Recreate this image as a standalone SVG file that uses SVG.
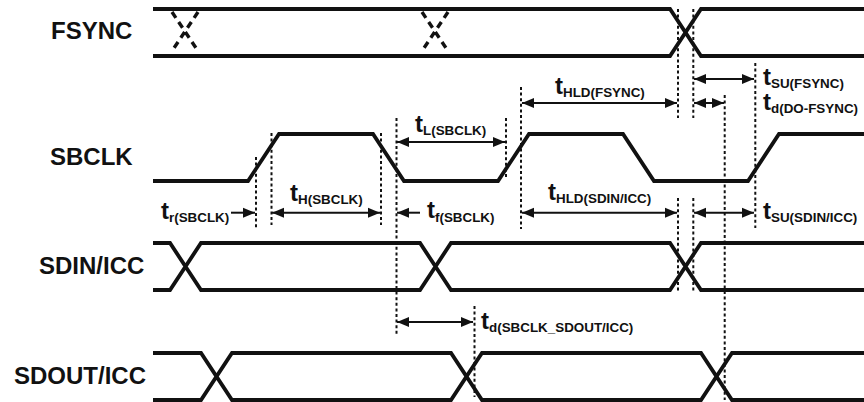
<svg xmlns="http://www.w3.org/2000/svg" width="864" height="402" viewBox="0 0 864 402">
<style>
.w{fill:none;stroke:#111;stroke-width:3.8;stroke-linejoin:miter}
.x{fill:none;stroke:#111;stroke-width:3.4;stroke-dasharray:7 5}
.d{fill:none;stroke:#111;stroke-width:2;stroke-dasharray:3 2.6}
.a{fill:none;stroke:#111;stroke-width:2}
.n{font:bold 24px "Liberation Sans",Arial,sans-serif;fill:#111}
.t{font:bold 24px "Liberation Sans",Arial,sans-serif;fill:#111}
.t tspan{font-size:13.4px}
</style>
<defs>
<marker id="e" viewBox="0 0 12 12" refX="12" refY="6" markerUnits="userSpaceOnUse" markerWidth="12" markerHeight="12" orient="auto-start-reverse"><path d="M0 1L12 6L0 11Z" fill="#111"/></marker>
</defs>
<rect width="864" height="402" fill="#fff"/>
<g id="fsync">
<text class="n" x="51" y="39">FSYNC</text>
<path class="w" d="M153 9H670L701 56H864M153 56H670L701 9H864"/>
<path class="x" d="M172 12L198 51M198 12L172 51M422 12L448 51M448 12L422 51"/>
</g>
<g id="sbclk">
<text class="n" x="50" y="165">SBCLK</text>
<path class="w" d="M153 181H248L279 134H373L404 181H498L529 134H623L654 181H748L779 134H864"/>
</g>
<g id="sdin">
<text class="n" x="39" y="274">SDIN/ICC</text>
<path class="w" d="M153 243H170L201 290H420L451 243H670L701 290H864M153 290H170L201 243H420L451 290H670L701 243H864"/>
</g>
<g id="sdout">
<text class="n" x="14" y="384">SDOUT/ICC</text>
<path class="w" d="M153 353H201L232 400H451L482 353H701L732 400H864M153 400H201L232 353H451L482 400H701L732 353H864"/>
</g>
<g id="connectors">
<path class="d" d="M256 157V229M271.5 133V225M381 133V225M396.5 118V335M506 118V178M521 87V229M678 9V118M678 198V292M693.3 9V118M693.3 198V292M724.7 95V400M755.3 63V228M474.5 306V397"/>
<g class="a" marker-start="url(#e)" marker-end="url(#e)">
<path d="M397 142H505"/>
<path d="M272 212.7H380"/>
<path d="M522 103H677"/>
<path d="M694 79H754"/>
<path d="M694 103H724"/>
<path d="M522 212.7H677"/>
<path d="M694 212.7H754"/>
<path d="M397 322H473"/>
</g>
<path class="a" d="M231 212.7H255" marker-end="url(#e)"/>
<path class="a" d="M420 212.7H397" marker-end="url(#e)"/>
</g>
<g id="labels">
<text class="t" x="415" y="132">t<tspan dy="3">L(SBCLK)</tspan></text>
<text class="t" x="290" y="201">t<tspan dy="3">H(SBCLK)</tspan></text>
<text class="t" x="161" y="219">t<tspan dy="3">r(SBCLK)</tspan></text>
<text class="t" x="427" y="218">t<tspan dy="4">f(SBCLK)</tspan></text>
<text class="t" x="555" y="94">t<tspan dy="3">HLD(FSYNC)</tspan></text>
<text class="t" x="548" y="200">t<tspan dy="3">HLD(SDIN/ICC)</tspan></text>
<text class="t" x="763" y="85">t<tspan dy="3">SU(FSYNC)</tspan></text>
<text class="t" x="763" y="110">t<tspan dy="3">d(DO-FSYNC)</tspan></text>
<text class="t" x="763" y="219">t<tspan dy="3">SU(SDIN/ICC)</tspan></text>
<text class="t" x="481" y="329">t<tspan dy="3">d(SBCLK_SDOUT/ICC)</tspan></text>
</g>
</svg>
